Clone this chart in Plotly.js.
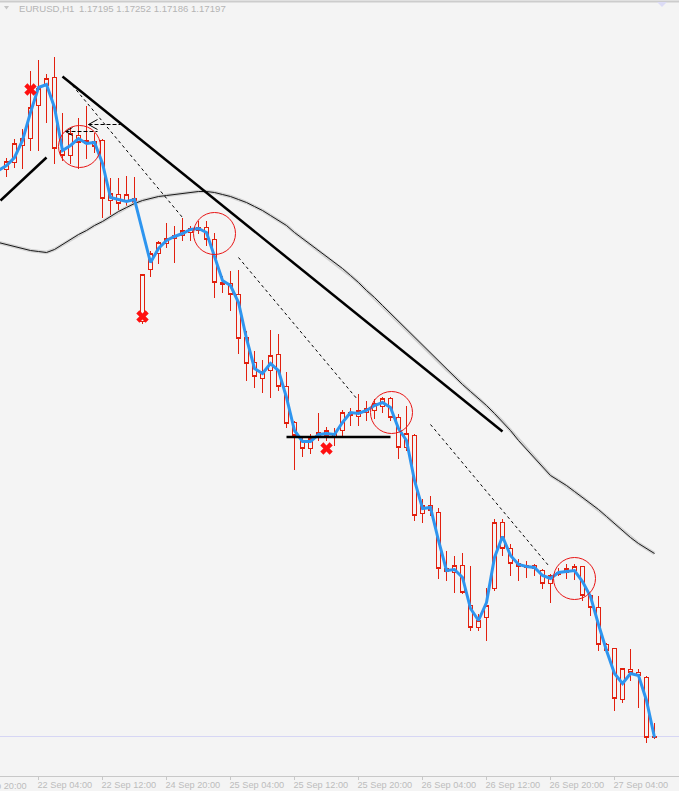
<!DOCTYPE html>
<html><head><meta charset="utf-8">
<script src="https://cdn.plot.ly/plotly-3.0.1.min.js"></script>
<style>
html,body{margin:0;padding:0;background:#f4f4f4;overflow:hidden;}
#chart{width:679px;height:791px;}
#chart .boxlayer path{shape-rendering:crispEdges;}
</style>
</head><body><div id="chart"></div>
<script>
// ---- header ----
const symbolText = 'EURUSD,H1';
const quoteText = '1.17195 1.17252 1.17186 1.17197';

// ---- bars (H1, index 0 = 22 Sep 00:00) ----
const bars = [0,1,2,3,4,5,6,7,8,9,10,11,12,13,14,15,16,17,18,19,20,21,22,23,24,25,26,27,28,29,30,31,32,33,34,35,36,37,38,39,40,41,42,43,44,45,46,47,48,49,50,51,52,53,54,55,56,57,58,59,60,61,62,63,64,65,66,67,68,69,70,71,72,73,74,75,76,77,78,79,80,81];
const openP = [1.19465,1.19493,1.19561,1.19589,1.19721,1.19801,1.19833,1.19541,1.19521,1.19601,
1.19569,1.19577,1.19581,1.19341,1.19365,1.19341,1.19349,1.18857,1.19065,1.19129,
1.19169,1.19189,1.19201,1.19213,1.19221,1.19233,1.19185,1.19013,1.19009,1.18965,
1.18793,1.18693,1.18629,1.18661,1.18725,1.18597,1.18453,1.18381,1.18349,1.18393,
1.18401,1.18409,1.18421,1.18493,1.18477,1.18493,1.18501,1.18517,1.18549,1.18473,
1.18353,1.18401,1.18089,1.18121,1.18093,1.17869,1.17853,1.17881,1.17721,1.17633,
1.17673,1.17789,1.18053,1.17949,1.17889,1.17873,1.17881,1.17861,1.17809,1.17845,
1.17853,1.17861,1.17877,1.17761,1.17713,1.17565,1.17549,1.17345,1.17465,1.17453,
1.17433,1.17195];
const highP = [1.19513,1.19589,1.19629,1.19861,1.19905,1.19849,1.19917,1.19693,1.19633,1.19673,
1.19721,1.19613,1.19589,1.19433,1.19433,1.19441,1.19437,1.19045,1.19141,1.19181,
1.19253,1.19241,1.19273,1.19241,1.19261,1.19261,1.19213,1.19041,1.19061,1.19065,
1.18821,1.18741,1.18705,1.18825,1.18809,1.18657,1.18461,1.18393,1.18409,1.18493,
1.18437,1.18433,1.18505,1.18513,1.18569,1.18541,1.18549,1.18557,1.18557,1.18489,
1.18521,1.18409,1.18149,1.18161,1.18113,1.17941,1.17921,1.17933,1.17881,1.17689,
1.17793,1.18069,1.18069,1.17969,1.17909,1.17901,1.17889,1.17869,1.17849,1.17873,
1.17889,1.17889,1.17881,1.17769,1.17761,1.17573,1.17553,1.17473,1.17549,1.17469,
1.17441,1.17252];
const lowP = [1.19437,1.19473,1.19469,1.19541,1.19541,1.19653,1.19489,1.19501,1.19489,1.19469,
1.19509,1.19533,1.19273,1.19273,1.19301,1.19313,1.19329,1.18849,1.19037,1.19089,
1.19153,1.19093,1.19181,1.19181,1.19209,1.19161,1.18953,1.18973,1.18901,1.18729,
1.18621,1.18593,1.18573,1.18553,1.18581,1.18433,1.18265,1.18317,1.18329,1.18381,
1.18381,1.18361,1.18393,1.18441,1.18441,1.18461,1.18469,1.18493,1.18461,1.18309,
1.18341,1.18061,1.18053,1.18081,1.17829,1.17821,1.17773,1.17769,1.17621,1.17621,
1.17581,1.17781,1.17921,1.17841,1.17821,1.17833,1.17841,1.17789,1.17733,1.17841,
1.17829,1.17825,1.17741,1.17681,1.17541,1.17529,1.17301,1.17333,1.17421,1.17313,
1.17173,1.17186];
const closeP = [1.19497,1.19569,1.19589,1.19713,1.19789,1.19829,1.19549,1.19521,1.19609,1.19573,
1.19581,1.19557,1.19349,1.19369,1.19329,1.19365,1.19333,1.19045,1.19129,1.19173,
1.19189,1.19201,1.19221,1.19229,1.19233,1.19185,1.19013,1.19005,1.18965,1.18789,
1.18689,1.18637,1.18657,1.18721,1.18597,1.18449,1.18401,1.18349,1.18389,1.18413,
1.18421,1.18393,1.18493,1.18481,1.18501,1.18509,1.18529,1.18549,1.18473,1.18353,
1.18409,1.18081,1.18121,1.18101,1.17869,1.17857,1.17881,1.17773,1.17633,1.17661,
1.17721,1.18053,1.17949,1.17889,1.17877,1.17881,1.17869,1.17809,1.17841,1.17853,
1.17869,1.17877,1.17761,1.17713,1.17565,1.17541,1.17349,1.17469,1.17453,1.17441,
1.17193,1.17197];

// ---- indicators (index -1 .. 81) ----
const indBars = [-1,0,1,2,3,4,5,6,7,8,9,10,11,12,13,14,15,16,17,18,19,20,21,22,23,24,25,26,27,28,29,30,31,32,33,34,35,36,37,38,39,40,41,42,43,44,45,46,47,48,49,50,51,52,53,54,55,56,57,58,59,60,61,62,63,64,65,66,67,68,69,70,71,72,73,74,75,76,77,78,79,80,81];
const fastLine = [1.19461,1.19481,1.19513,1.19581,1.19693,1.19793,1.19805,1.19713,1.19541,1.19561,1.19589,
1.19569,1.19573,1.19489,1.19353,1.19345,1.19337,1.19345,1.19221,1.19093,1.19149,
1.19181,1.19197,1.19209,1.19225,1.19229,1.19213,1.19121,1.19021,1.19001,1.18933,
1.18789,1.18669,1.18649,1.18689,1.18661,1.18553,1.18421,1.18377,1.18377,1.18405,
1.18409,1.18405,1.18453,1.18493,1.18489,1.18501,1.18521,1.18533,1.18513,1.18429,
1.18381,1.18221,1.18109,1.18113,1.17981,1.17861,1.17865,1.17833,1.17709,1.17661,
1.17733,1.17913,1.17997,1.17921,1.17885,1.17877,1.17873,1.17841,1.17829,1.17853,
1.17857,1.17861,1.17817,1.17757,1.17645,1.17541,1.17449,1.17409,1.17449,1.17441,
1.17341,1.17193];
const slowMA = [1.19173,1.19165,1.19157,1.19149,1.19141,1.19137,1.19133,1.19145,1.19165,1.19185,1.19205,
1.19221,1.19241,1.19257,1.19277,1.19297,1.19313,1.19329,1.19341,1.19349,1.19357,
1.19361,1.19365,1.19369,1.19373,1.19377,1.19377,1.19373,1.19365,1.19357,1.19345,
1.19333,1.19317,1.19301,1.19281,1.19261,1.19241,1.19213,1.19189,1.19165,1.19141,
1.19117,1.19093,1.19069,1.19041,1.19013,1.18981,1.18953,1.18921,1.18889,1.18857,
1.18825,1.18793,1.18761,1.18729,1.18697,1.18665,1.18637,1.18605,1.18577,1.18549,
1.18521,1.18489,1.18457,1.18421,1.18381,1.18345,1.18309,1.18273,1.18241,1.18221,
1.18201,1.18177,1.18153,1.18129,1.18105,1.18077,1.18049,1.18021,1.17993,1.17969,
1.17949,1.17929];

// ---- drawn objects ----
const trendX = [7, 62], trendY = [1.19837, 1.18417];
const supportX = [-0.75, 5], supportY = [1.19341, 1.19513];
const levelX = [35, 48], levelY = [1.18395, 1.18395];
const chanStartX = [8.25, 29, 53], chanStartY = [1.19801, 1.19113, 1.18445];
const chanEndX = [22, 43.875, 67.75], chanEndY = [1.19273, 1.18545, 1.17881];
const arrowX0 = [10.25, 7.375], arrowX1 = [14.25, 11.375], arrowY = [1.19645, 1.19617];
const arrowHeadX = [11.375, 8.25], arrowHeadDY = [0.00020, 0.00016];
const circleX = [9.125, 26, 48.125, 71], circleY = [1.19557, 1.19209, 1.18493, 1.17829];
const crossX = [3, 17, 40], crossY = [1.19785, 1.18877, 1.18349];
const bidPrice = 1.17197;

// ---- time axis ----
const tickBars = [4, 12, 20, 28, 36, 44, 52, 60, 68, 76];
const tickText = ['22 Sep 04:00','22 Sep 12:00','24 Sep 20:00','25 Sep 04:00','25 Sep 12:00','25 Sep 20:00','26 Sep 04:00','26 Sep 12:00','26 Sep 20:00','27 Sep 04:00'];
const leftCutLabel = '21 Sep 20:00';

const RED = '#e2200e', BG = '#f4f4f4';
const W = 679, H = 791, PH = 776;
const AXFONT = {family:'Liberation Sans, Arial, sans-serif', size:9.2, color:'#bcbcbc'};

const traces = [];
traces.push({type:'scatter', mode:'lines', x:indBars, y:slowMA, line:{color:'#d2d2d2', width:3.5}, hoverinfo:'skip'});
traces.push({type:'scatter', mode:'lines', x:indBars, y:slowMA, line:{color:'#1a1a1a', width:1}, hoverinfo:'skip'});
traces.push({type:'candlestick', x:bars, open:openP, high:highP, low:lowP, close:closeP,
  increasing:{line:{color:RED, width:1}, fillcolor:BG},
  decreasing:{line:{color:RED, width:1}, fillcolor:BG},
  whiskerwidth:0, hoverinfo:'skip'});
traces.push({type:'scatter', mode:'lines', x:indBars, y:fastLine, line:{color:'#2e95ef', width:3}, hoverinfo:'skip'});
const blk = (x, y, w, dash) => ({type:'scatter', mode:'lines', x:x, y:y, line:{color:'#000000', width:w, dash:dash||'solid'}, hoverinfo:'skip'});
traces.push(blk(trendX, trendY, 2.5));
traces.push(blk(supportX, supportY, 2.5));
traces.push(blk(levelX, levelY, 2.5));
for (let i = 0; i < chanStartX.length; i++) {
  traces.push(blk([chanStartX[i], chanEndX[i]], [chanStartY[i], chanEndY[i]], 1, '3px,3px'));
}
for (let i = 0; i < arrowX0.length; i++) {
  traces.push(blk([arrowX0[i], arrowX1[i]], [arrowY[i], arrowY[i]], 1, '4px,2px'));
  traces.push(blk([arrowHeadX[i], arrowX0[i], arrowHeadX[i]], [arrowY[i] + arrowHeadDY[i], arrowY[i], arrowY[i] - arrowHeadDY[i]], 1));
}
traces.push({type:'scatter', mode:'markers', x:crossX, y:crossY, marker:{symbol:'x', size:11, color:'#ff1010', line:{width:0}}, hoverinfo:'skip'});

const shapes = [];
circleX.forEach((cx, i) => {
  shapes.push({type:'circle', xref:'x', yref:'y', xsizemode:'pixel', ysizemode:'pixel',
    xanchor:cx, yanchor:circleY[i], x0:-21, x1:21, y0:-21, y1:21,
    line:{color:'#e81414', width:1}, layer:'above'});
});
shapes.push({type:'line', xref:'paper', yref:'y', x0:0, x1:1, y0:bidPrice, y1:bidPrice, line:{color:'#d6d6f4', width:1}, layer:'below'});
shapes.push({type:'line', xref:'paper', yref:'paper', x0:0, x1:1, y0:1-1.5/PH, y1:1-1.5/PH, line:{color:'#cccccc', width:2}});
shapes.push({type:'path', xref:'paper', yref:'paper', path:`M ${657/W},${1-2/PH} L ${667/W},${1-2/PH} L ${662/W},${1-7/PH} Z`, fillcolor:'#dcdcf6', line:{width:0}});
shapes.push({type:'path', xref:'paper', yref:'paper', path:`M ${4/W},${1-6/PH} L ${9/W},${1-6/PH} L ${6.5/W},${1-9.5/PH} Z`, fillcolor:'#c4c4c4', line:{width:0}});

const annFont = {family:'Liberation Sans, Arial, sans-serif', size:9.6, color:'#b4b4b4'};
const annotations = [
  {xref:'paper', yref:'paper', x:17/W, y:1, xanchor:'left', yanchor:'top', yshift:-1, text:symbolText, showarrow:false, font:annFont},
  {xref:'paper', yref:'paper', x:77/W, y:1, xanchor:'left', yanchor:'top', yshift:-1, text:quoteText, showarrow:false, font:annFont},
  {xref:'paper', yref:'paper', x:(6.5 + 8*(-4) - 5)/W, y:0, xanchor:'left', yanchor:'top', yshift:-3, text:leftCutLabel, showarrow:false, font:AXFONT}
];

const layout = {
  width:W, height:H,
  margin:{l:0, r:0, t:0, b:15, pad:0},
  paper_bgcolor:BG, plot_bgcolor:BG,
  showlegend:false,
  boxgap:0.38,
  xaxis:{range:[-0.8125, 84.0625], showgrid:false, zeroline:false, showline:true, linecolor:'#c8c8c8', linewidth:1,
    ticks:'outside', ticklen:3, tickcolor:'#c8c8c8', tickwidth:1,
    tickvals:tickBars, ticktext:tickText, ticklabelposition:'outside right', ticklabelshift:-2,
    tickfont:AXFONT, rangeslider:{visible:false}, fixedrange:true},
  yaxis:{range:[1.17039, 1.20143], visible:false, showgrid:false, zeroline:false, fixedrange:true},
  shapes:shapes,
  annotations:annotations
};
Plotly.newPlot('chart', traces, layout, {staticPlot:true, displayModeBar:false});
</script>
</body></html>
